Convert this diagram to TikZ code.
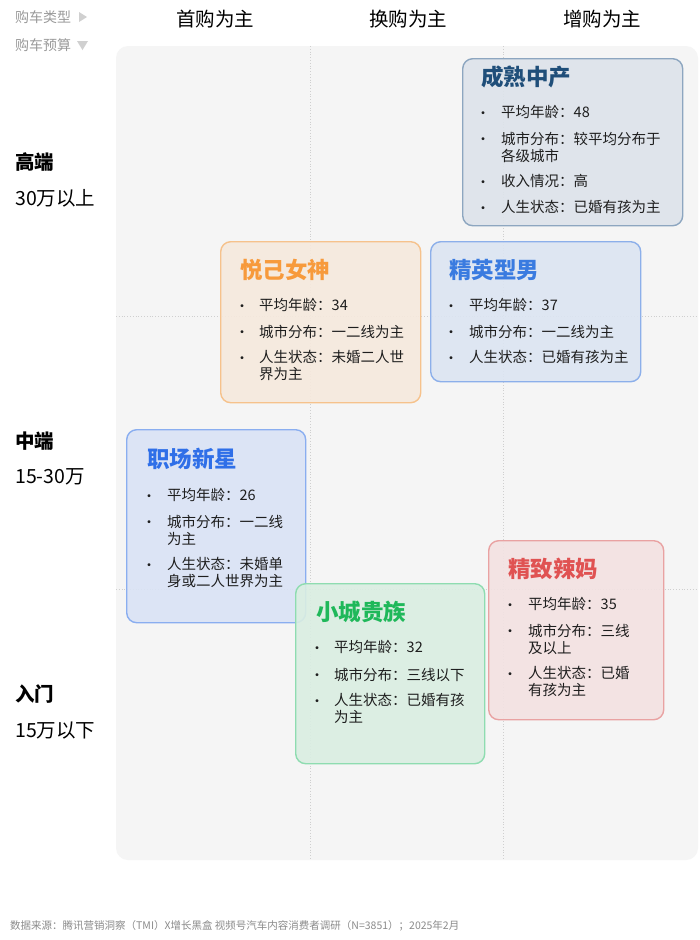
\documentclass[tikz,border=0pt]{standalone}
\usepackage{fontspec}
\setmainfont{Noto Sans CJK SC}
\definecolor{panel}{HTML}{F5F5F5}
\definecolor{gridc}{HTML}{CFCFCF}
\definecolor{lblgray}{HTML}{9A9A9A}
\definecolor{tri}{HTML}{D0D0D0}
\definecolor{txt}{HTML}{1E1E1E}
\definecolor{aF}{HTML}{DDE3EA}\definecolor{aD}{HTML}{8DA6C0}\definecolor{aT}{HTML}{1F4E79}
\definecolor{bF}{HTML}{F6E9DD}\definecolor{bD}{HTML}{F6C28C}\definecolor{bT}{HTML}{F79A3C}
\definecolor{cF}{HTML}{DCE5F2}\definecolor{cD}{HTML}{8CAFEA}\definecolor{cT}{HTML}{3A7BE0}
\definecolor{dF}{HTML}{DAE3F5}\definecolor{dD}{HTML}{8AAEF0}\definecolor{dT}{HTML}{2F6FE8}
\definecolor{eF}{HTML}{F3E2E2}\definecolor{eD}{HTML}{E9A2A2}\definecolor{eT}{HTML}{E05252}
\definecolor{fF}{HTML}{DAEEE2}\definecolor{fD}{HTML}{8EDCB0}\definecolor{fT}{HTML}{1FB85A}
\newcommand\cardline[5]{%
  \node[bul] (#5b) at (#1,#3+3) {•};
  \node[itm,anchor=north west] (#5) at (#2,#3-6.5) {#4};}
\begin{document}
\begin{tikzpicture}[x=1pt,y=-1pt,
  card/.style={rectangle,rounded corners=10pt,line width=1.4pt,fill opacity=0.9,anchor=north west,inner sep=0pt},
  ttl/.style={font=\fontsize{22.5}{26}\selectfont\bfseries,anchor=west,inner sep=0pt},
  itm/.style={font=\fontsize{14.5}{17}\selectfont,text=txt,align=left,inner sep=0pt},
  bul/.style={font=\fontsize{14}{16}\selectfont,text=txt,inner sep=0pt},
  hdr/.style={font=\fontsize{19.5}{22}\selectfont,text=black,inner sep=0pt},
  lvl/.style={font=\fontsize{19.5}{23}\selectfont\bfseries,text=black,anchor=west,inner sep=0pt},
  rng/.style={font=\fontsize{19.5}{23}\selectfont,text=black,anchor=west,inner sep=0pt},
  glbl/.style={font=\fontsize{14}{16}\selectfont,text=lblgray,anchor=west,inner sep=0pt},
  grid/.style={draw=gridc,dotted,line width=0.8pt}]
\useasboundingbox (0,0) rectangle (700,940);
\fill[white] (0,0) rectangle (700,940);
\fill[panel,rounded corners=12pt] (116,46) rectangle (698,860);
% grid
\coordinate (v1t) at (310,46); \coordinate (v1b) at (310,860);
\coordinate (v2t) at (503,46); \coordinate (v2b) at (503,860);
\coordinate (h1l) at (116,316); \coordinate (h1r) at (698,316);
\coordinate (h2l) at (116,589); \coordinate (h2r) at (698,589);
\draw[grid] (v1t) -- (v1b);
\draw[grid] (v2t) -- (v2b);
\draw[grid] (h1l) -- (h1r);
\draw[grid] (h2l) -- (h2r);
% headers
\node[glbl] (lt) at (15,17) {购车类型};
\node[glbl] (lb) at (15,45) {购车预算};
\fill[tri] (79,12) -- (87,17) -- (79,22) -- cycle;
\fill[tri] (77,41) -- (88,41) -- (82.5,50) -- cycle;
\node[hdr] (h1) at (215,19) {首购为主};
\node[hdr] (h2) at (408,19) {换购为主};
\node[hdr] (h3) at (602,19) {增购为主};
\node[lvl] (l1) at (15,162) {高端};
\node[rng] (r1) at (15,198) {30万以上};
\node[lvl] (l2) at (15,441) {中端};
\node[rng] (r2) at (15,477) {15-30万};
\node[lvl] (l3) at (15,694) {入门};
\node[rng] (r3) at (15,731) {15万以下};
% card 1
\node[card,draw=aD,fill=aF,minimum width=220pt,minimum height=167pt] (c1) at (462,58) {};
\node[ttl,text=aT] (t1) at (481,77) {成熟中产};
\cardline{483}{501}{112}{平均年龄：48}{c1a}
\cardline{483}{501}{138}{城市分布：较平均分布于\\各级城市}{c1b}
\cardline{483}{501}{181}{收入情况：高}{c1c}
\cardline{483}{501}{207}{人生状态：已婚有孩为主}{c1d}
% card 2
\node[card,draw=bD,fill=bF,minimum width=200pt,minimum height=161pt] (c2) at (220,241) {};
\node[ttl,text=bT] (t2) at (240,270) {悦己女神};
\cardline{242}{259}{305}{平均年龄：34}{c2a}
\cardline{242}{259}{331}{城市分布：一二线为主}{c2b}
\cardline{242}{259}{357}{人生状态：未婚二人世\\界为主}{c2c}
% card 3
\node[card,draw=cD,fill=cF,minimum width=210pt,minimum height=140pt] (c3) at (430,241) {};
\node[ttl,text=cT] (t3) at (449,270) {精英型男};
\cardline{451}{469}{305}{平均年龄：37}{c3a}
\cardline{451}{469}{331}{城市分布：一二线为主}{c3b}
\cardline{451}{469}{357}{人生状态：已婚有孩为主}{c3c}
% card 4
\node[card,draw=dD,fill=dF,minimum width=179pt,minimum height=193pt] (c4) at (126,429) {};
\node[ttl,text=dT] (t4) at (147,459) {职场新星};
\cardline{149}{167}{495}{平均年龄：26}{c4a}
\cardline{149}{167}{521}{城市分布：一二线\\为主}{c4b}
\cardline{149}{167}{564}{人生状态：未婚单\\身或二人世界为主}{c4c}
% card 6
\node[card,draw=eD,fill=eF,minimum width=175pt,minimum height=179pt] (c6) at (488,540) {};
\node[ttl,text=eT] (t6) at (508,569) {精致辣妈};
\cardline{510}{528}{604}{平均年龄：35}{c6a}
\cardline{510}{528}{630}{城市分布：三线\\及以上}{c6b}
\cardline{510}{528}{673}{人生状态：已婚\\有孩为主}{c6c}
% card 5
\node[card,draw=fD,fill=fF,minimum width=189pt,minimum height=180pt] (c5) at (295,583) {};
\node[ttl,text=fT] (t5) at (316,612) {小城贵族};
\cardline{317}{334}{647}{平均年龄：32}{c5a}
\cardline{317}{334}{674}{城市分布：三线以下}{c5b}
\cardline{317}{334}{700}{人生状态：已婚有孩\\为主}{c5c}
% source
\node[font=\fontsize{10.5}{12}\selectfont,text=lblgray!90!black,anchor=west,inner sep=0pt] (src) at (10,926) {数据来源：腾讯营销洞察（TMI）X增长黑盒 视频号汽车内容消费者调研（N=3851）；2025年2月};
\end{tikzpicture}
\end{document}
